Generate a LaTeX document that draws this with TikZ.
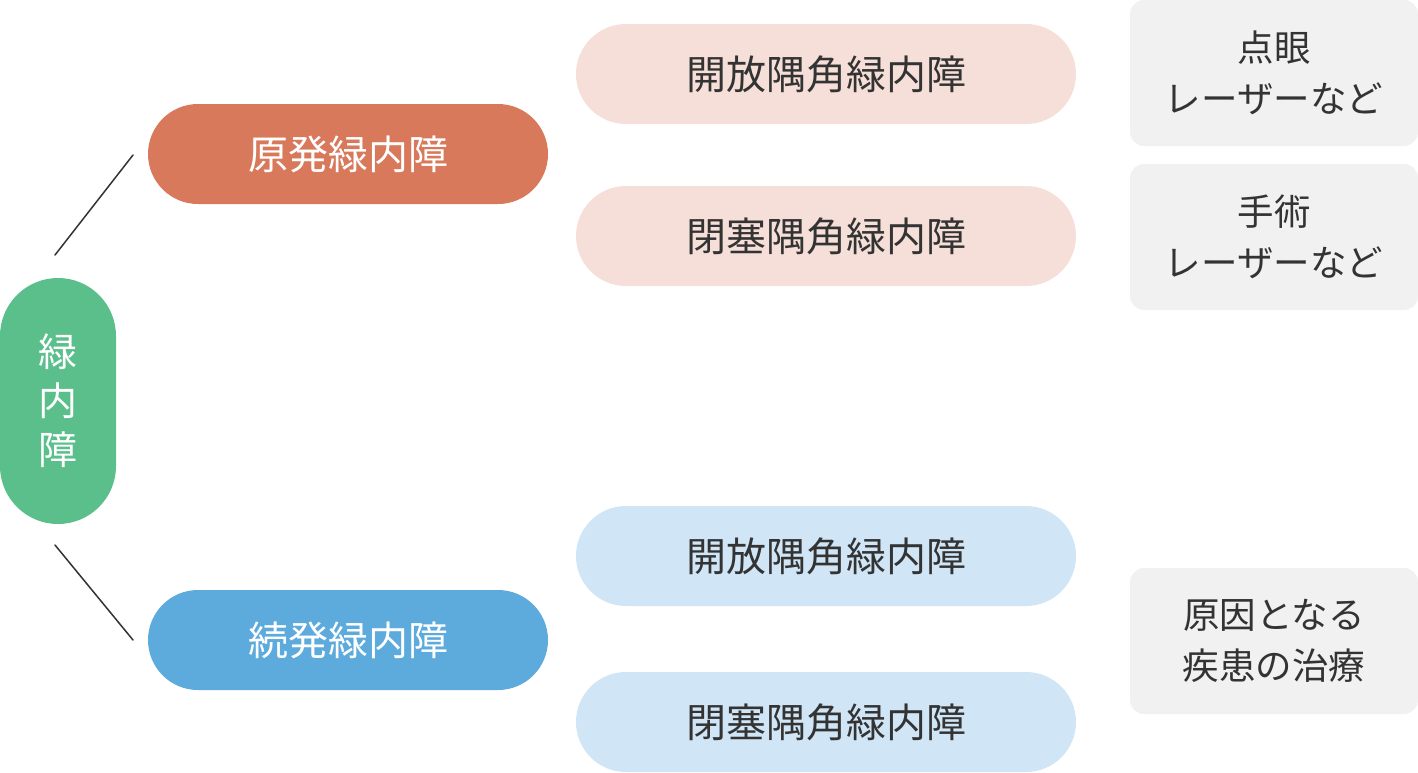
\documentclass[tikz,border=0pt]{standalone}
\usepackage{fontspec}
\newfontfamily\jpfont{Noto Sans CJK JP}
\definecolor{glgreen}{HTML}{5BBF8C}
\definecolor{glorange}{HTML}{D9795C}
\definecolor{glblue}{HTML}{5DAADD}
\definecolor{glpink}{HTML}{F5DFD8}
\definecolor{gllightblue}{HTML}{D0E5F5}
\definecolor{glgray}{HTML}{F1F1F1}
\definecolor{gltext}{HTML}{333333}
\begin{document}
\begin{tikzpicture}[x=1pt,y=-1pt,line join=round,line cap=round]
		\tikzset{every node/.style={font=\jpfont\fontsize{40}{50}\selectfont,inner sep=0pt,align=center},
			pill/.style={rounded corners=50pt,minimum width=400pt,minimum height=100pt},
			subpill/.style={pill,minimum width=500pt,fill=#1,text=gltext},
			treat/.style={rounded corners=14pt,minimum width=288pt,minimum height=146pt,fill=glgray,text=gltext,font=\jpfont\fontsize{36.5}{51}\selectfont}}
		\useasboundingbox (0,0) rectangle (1418,772);
		\node[rounded corners=58pt,minimum width=116pt,minimum height=246pt,fill=glgreen,text=white,font=\jpfont\fontsize{39}{49}\selectfont] (glaucoma) at (58,401) {緑\\内\\障};
		\node[pill,fill=glorange,text=white] (primary) at (348,154) {原発緑内障};
		\node[pill,fill=glblue,text=white] (secondary) at (348,640) {続発緑内障};
		\foreach \y/\nm/\t/\c in {74/popen/開放/glpink,236/pclosed/閉塞/glpink,556/sopen/開放/gllightblue,722/sclosed/閉塞/gllightblue}
		\node[subpill=\c] (\nm) at (826,\y) {\t 隅角緑内障};
		\node[treat] (eyedrop) at (1274,73) {点眼\\レーザーなど};
		\node[treat] (surgery) at (1274,237) {手術\\レーザーなど};
		\node[treat] (cause) at (1274,641) {原因となる\\疾患の治療};
		\coordinate (up1) at (55,255);
		\coordinate (up2) at (133,155);
		\coordinate (dn1) at (55,545);
		\coordinate (dn2) at (133,640);
		\draw[gltext,line width=1.5pt] (up1)--(up2);
		\draw[gltext,line width=1.5pt] (dn1)--(dn2);
	\end{tikzpicture}
\end{document}
